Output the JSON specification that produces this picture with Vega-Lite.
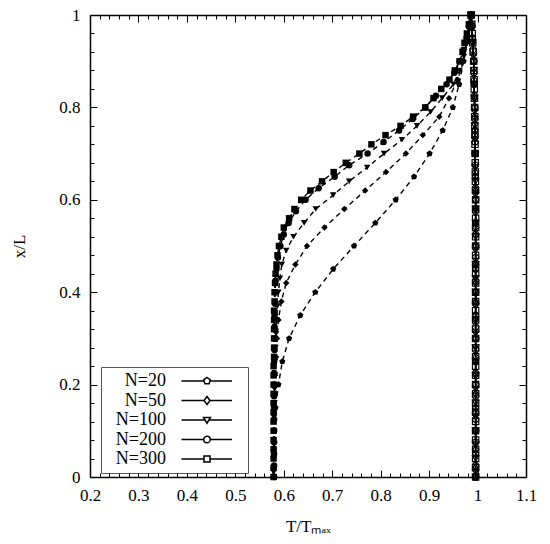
{
  "$schema": "https://vega.github.io/schema/vega-lite/v6.json",
  "description": "Temperature profiles x/L against T/Tmax for several N",
  "width": 436,
  "height": 462,
  "autosize": {"type": "none"},
  "padding": {"left": 90, "top": 15, "right": 24, "bottom": 67},
  "background": "white",
  "config": {
    "view": {"stroke": null},
    "axis": {
      "grid": false,
      "domainColor": "black",
      "domainWidth": 1.5,
      "tickColor": "black",
      "tickWidth": 1,
      "labelFont": "Liberation Serif",
      "labelFontSize": 17,
      "labelColor": "black",
      "labelFlush": false,
      "labelOverlap": false,
      "titleFont": "Liberation Serif",
      "titleFontSize": 17,
      "titleFontWeight": "normal",
      "titleColor": "black"
    }
  },
  "data": {
    "values": [
      {"n":"N=20","s":"L","x":0.579,"y":0},{"n":"N=20","s":"L","x":0.579,"y":0.05},{"n":"N=20","s":"L","x":0.580,"y":0.10},{"n":"N=20","s":"L","x":0.583,"y":0.15},{"n":"N=20","s":"L","x":0.589,"y":0.20},{"n":"N=20","s":"L","x":0.597,"y":0.25},{"n":"N=20","s":"L","x":0.611,"y":0.30},{"n":"N=20","s":"L","x":0.634,"y":0.35},{"n":"N=20","s":"L","x":0.665,"y":0.40},{"n":"N=20","s":"L","x":0.702,"y":0.45},{"n":"N=20","s":"L","x":0.745,"y":0.50},{"n":"N=20","s":"L","x":0.789,"y":0.55},{"n":"N=20","s":"L","x":0.831,"y":0.60},{"n":"N=20","s":"L","x":0.869,"y":0.65},{"n":"N=20","s":"L","x":0.901,"y":0.70},{"n":"N=20","s":"L","x":0.928,"y":0.75},{"n":"N=20","s":"L","x":0.949,"y":0.80},{"n":"N=20","s":"L","x":0.962,"y":0.85},{"n":"N=20","s":"L","x":0.971,"y":0.90},{"n":"N=20","s":"L","x":0.978,"y":0.95},{"n":"N=20","s":"L","x":0.986,"y":1.0},
      {"n":"N=50","s":"L","x":0.579,"y":0},{"n":"N=50","s":"L","x":0.579,"y":0.02},{"n":"N=50","s":"L","x":0.579,"y":0.06},{"n":"N=50","s":"L","x":0.580,"y":0.10},{"n":"N=50","s":"L","x":0.580,"y":0.14},{"n":"N=50","s":"L","x":0.581,"y":0.18},{"n":"N=50","s":"L","x":0.582,"y":0.22},{"n":"N=50","s":"L","x":0.584,"y":0.26},{"n":"N=50","s":"L","x":0.586,"y":0.30},{"n":"N=50","s":"L","x":0.589,"y":0.34},{"n":"N=50","s":"L","x":0.595,"y":0.38},{"n":"N=50","s":"L","x":0.605,"y":0.42},{"n":"N=50","s":"L","x":0.624,"y":0.46},{"n":"N=50","s":"L","x":0.648,"y":0.50},{"n":"N=50","s":"L","x":0.684,"y":0.54},{"n":"N=50","s":"L","x":0.725,"y":0.58},{"n":"N=50","s":"L","x":0.768,"y":0.62},{"n":"N=50","s":"L","x":0.811,"y":0.66},{"n":"N=50","s":"L","x":0.852,"y":0.70},{"n":"N=50","s":"L","x":0.887,"y":0.74},{"n":"N=50","s":"L","x":0.921,"y":0.78},{"n":"N=50","s":"L","x":0.941,"y":0.82},{"n":"N=50","s":"L","x":0.959,"y":0.86},{"n":"N=50","s":"L","x":0.971,"y":0.90},{"n":"N=50","s":"L","x":0.978,"y":0.94},{"n":"N=50","s":"L","x":0.984,"y":0.98},{"n":"N=50","s":"L","x":0.986,"y":1.0},
      {"n":"N=100","s":"L","x":0.579,"y":0},{"n":"N=100","s":"L","x":0.579,"y":0.01},{"n":"N=100","s":"L","x":0.579,"y":0.04},{"n":"N=100","s":"L","x":0.580,"y":0.07},{"n":"N=100","s":"L","x":0.580,"y":0.10},{"n":"N=100","s":"L","x":0.580,"y":0.13},{"n":"N=100","s":"L","x":0.581,"y":0.16},{"n":"N=100","s":"L","x":0.581,"y":0.19},{"n":"N=100","s":"L","x":0.582,"y":0.22},{"n":"N=100","s":"L","x":0.582,"y":0.25},{"n":"N=100","s":"L","x":0.583,"y":0.28},{"n":"N=100","s":"L","x":0.584,"y":0.31},{"n":"N=100","s":"L","x":0.585,"y":0.34},{"n":"N=100","s":"L","x":0.587,"y":0.37},{"n":"N=100","s":"L","x":0.589,"y":0.40},{"n":"N=100","s":"L","x":0.592,"y":0.43},{"n":"N=100","s":"L","x":0.596,"y":0.46},{"n":"N=100","s":"L","x":0.605,"y":0.49},{"n":"N=100","s":"L","x":0.620,"y":0.52},{"n":"N=100","s":"L","x":0.642,"y":0.55},{"n":"N=100","s":"L","x":0.666,"y":0.58},{"n":"N=100","s":"L","x":0.702,"y":0.61},{"n":"N=100","s":"L","x":0.735,"y":0.64},{"n":"N=100","s":"L","x":0.772,"y":0.67},{"n":"N=100","s":"L","x":0.807,"y":0.70},{"n":"N=100","s":"L","x":0.844,"y":0.73},{"n":"N=100","s":"L","x":0.875,"y":0.76},{"n":"N=100","s":"L","x":0.903,"y":0.79},{"n":"N=100","s":"L","x":0.927,"y":0.82},{"n":"N=100","s":"L","x":0.950,"y":0.85},{"n":"N=100","s":"L","x":0.963,"y":0.88},{"n":"N=100","s":"L","x":0.972,"y":0.91},{"n":"N=100","s":"L","x":0.978,"y":0.94},{"n":"N=100","s":"L","x":0.983,"y":0.97},{"n":"N=100","s":"L","x":0.986,"y":1.0},
      {"n":"N=200","s":"L","x":0.580,"y":0},{"n":"N=200","s":"L","x":0.580,"y":0.025},{"n":"N=200","s":"L","x":0.580,"y":0.05},{"n":"N=200","s":"L","x":0.580,"y":0.075},{"n":"N=200","s":"L","x":0.580,"y":0.10},{"n":"N=200","s":"L","x":0.580,"y":0.125},{"n":"N=200","s":"L","x":0.580,"y":0.15},{"n":"N=200","s":"L","x":0.580,"y":0.175},{"n":"N=200","s":"L","x":0.580,"y":0.20},{"n":"N=200","s":"L","x":0.580,"y":0.225},{"n":"N=200","s":"L","x":0.580,"y":0.25},{"n":"N=200","s":"L","x":0.581,"y":0.275},{"n":"N=200","s":"L","x":0.581,"y":0.30},{"n":"N=200","s":"L","x":0.581,"y":0.325},{"n":"N=200","s":"L","x":0.581,"y":0.35},{"n":"N=200","s":"L","x":0.582,"y":0.375},{"n":"N=200","s":"L","x":0.582,"y":0.40},{"n":"N=200","s":"L","x":0.583,"y":0.425},{"n":"N=200","s":"L","x":0.585,"y":0.45},{"n":"N=200","s":"L","x":0.588,"y":0.475},{"n":"N=200","s":"L","x":0.593,"y":0.50},{"n":"N=200","s":"L","x":0.600,"y":0.525},{"n":"N=200","s":"L","x":0.610,"y":0.55},{"n":"N=200","s":"L","x":0.625,"y":0.575},{"n":"N=200","s":"L","x":0.645,"y":0.60},{"n":"N=200","s":"L","x":0.672,"y":0.625},{"n":"N=200","s":"L","x":0.705,"y":0.65},{"n":"N=200","s":"L","x":0.735,"y":0.675},{"n":"N=200","s":"L","x":0.773,"y":0.70},{"n":"N=200","s":"L","x":0.806,"y":0.725},{"n":"N=200","s":"L","x":0.838,"y":0.75},{"n":"N=200","s":"L","x":0.866,"y":0.775},{"n":"N=200","s":"L","x":0.892,"y":0.80},{"n":"N=200","s":"L","x":0.914,"y":0.825},{"n":"N=200","s":"L","x":0.936,"y":0.85},{"n":"N=200","s":"L","x":0.952,"y":0.875},{"n":"N=200","s":"L","x":0.963,"y":0.90},{"n":"N=200","s":"L","x":0.971,"y":0.925},{"n":"N=200","s":"L","x":0.977,"y":0.95},{"n":"N=200","s":"L","x":0.982,"y":0.975},{"n":"N=200","s":"L","x":0.986,"y":1.0},
      {"n":"N=300","s":"L","x":0.579,"y":0},{"n":"N=300","s":"L","x":0.579,"y":0.02},{"n":"N=300","s":"L","x":0.579,"y":0.04},{"n":"N=300","s":"L","x":0.579,"y":0.06},{"n":"N=300","s":"L","x":0.579,"y":0.08},{"n":"N=300","s":"L","x":0.579,"y":0.10},{"n":"N=300","s":"L","x":0.579,"y":0.12},{"n":"N=300","s":"L","x":0.579,"y":0.14},{"n":"N=300","s":"L","x":0.579,"y":0.16},{"n":"N=300","s":"L","x":0.579,"y":0.18},{"n":"N=300","s":"L","x":0.579,"y":0.20},{"n":"N=300","s":"L","x":0.579,"y":0.22},{"n":"N=300","s":"L","x":0.579,"y":0.24},{"n":"N=300","s":"L","x":0.580,"y":0.26},{"n":"N=300","s":"L","x":0.580,"y":0.28},{"n":"N=300","s":"L","x":0.580,"y":0.30},{"n":"N=300","s":"L","x":0.580,"y":0.32},{"n":"N=300","s":"L","x":0.580,"y":0.34},{"n":"N=300","s":"L","x":0.580,"y":0.36},{"n":"N=300","s":"L","x":0.581,"y":0.38},{"n":"N=300","s":"L","x":0.581,"y":0.40},{"n":"N=300","s":"L","x":0.582,"y":0.42},{"n":"N=300","s":"L","x":0.583,"y":0.44},{"n":"N=300","s":"L","x":0.585,"y":0.46},{"n":"N=300","s":"L","x":0.587,"y":0.48},{"n":"N=300","s":"L","x":0.590,"y":0.50},{"n":"N=300","s":"L","x":0.595,"y":0.52},{"n":"N=300","s":"L","x":0.600,"y":0.54},{"n":"N=300","s":"L","x":0.611,"y":0.56},{"n":"N=300","s":"L","x":0.622,"y":0.58},{"n":"N=300","s":"L","x":0.636,"y":0.60},{"n":"N=300","s":"L","x":0.655,"y":0.62},{"n":"N=300","s":"L","x":0.679,"y":0.64},{"n":"N=300","s":"L","x":0.703,"y":0.66},{"n":"N=300","s":"L","x":0.728,"y":0.68},{"n":"N=300","s":"L","x":0.756,"y":0.70},{"n":"N=300","s":"L","x":0.781,"y":0.72},{"n":"N=300","s":"L","x":0.810,"y":0.74},{"n":"N=300","s":"L","x":0.841,"y":0.76},{"n":"N=300","s":"L","x":0.867,"y":0.78},{"n":"N=300","s":"L","x":0.892,"y":0.80},{"n":"N=300","s":"L","x":0.909,"y":0.82},{"n":"N=300","s":"L","x":0.925,"y":0.84},{"n":"N=300","s":"L","x":0.942,"y":0.86},{"n":"N=300","s":"L","x":0.953,"y":0.88},{"n":"N=300","s":"L","x":0.963,"y":0.90},{"n":"N=300","s":"L","x":0.969,"y":0.92},{"n":"N=300","s":"L","x":0.973,"y":0.94},{"n":"N=300","s":"L","x":0.978,"y":0.96},{"n":"N=300","s":"L","x":0.982,"y":0.98},{"n":"N=300","s":"L","x":0.986,"y":1.0},
      {"n":"N=20","s":"R","x":0.996,"y":0},{"n":"N=20","s":"R","x":0.996,"y":0.05},{"n":"N=20","s":"R","x":0.996,"y":0.10},{"n":"N=20","s":"R","x":0.996,"y":0.15},{"n":"N=20","s":"R","x":0.996,"y":0.20},{"n":"N=20","s":"R","x":0.996,"y":0.25},{"n":"N=20","s":"R","x":0.996,"y":0.30},{"n":"N=20","s":"R","x":0.996,"y":0.35},{"n":"N=20","s":"R","x":0.996,"y":0.40},{"n":"N=20","s":"R","x":0.996,"y":0.45},{"n":"N=20","s":"R","x":0.996,"y":0.50},{"n":"N=20","s":"R","x":0.996,"y":0.55},{"n":"N=20","s":"R","x":0.996,"y":0.60},{"n":"N=20","s":"R","x":0.9955,"y":0.65},{"n":"N=20","s":"R","x":0.995,"y":0.70},{"n":"N=20","s":"R","x":0.9945,"y":0.75},{"n":"N=20","s":"R","x":0.994,"y":0.80},{"n":"N=20","s":"R","x":0.993,"y":0.85},{"n":"N=20","s":"R","x":0.992,"y":0.90},{"n":"N=20","s":"R","x":0.9895,"y":0.95},{"n":"N=20","s":"R","x":0.987,"y":1.0},
      {"n":"N=50","s":"R","x":0.996,"y":0},{"n":"N=50","s":"R","x":0.996,"y":0.02},{"n":"N=50","s":"R","x":0.996,"y":0.06},{"n":"N=50","s":"R","x":0.996,"y":0.10},{"n":"N=50","s":"R","x":0.996,"y":0.14},{"n":"N=50","s":"R","x":0.996,"y":0.18},{"n":"N=50","s":"R","x":0.996,"y":0.22},{"n":"N=50","s":"R","x":0.996,"y":0.26},{"n":"N=50","s":"R","x":0.996,"y":0.30},{"n":"N=50","s":"R","x":0.996,"y":0.34},{"n":"N=50","s":"R","x":0.996,"y":0.38},{"n":"N=50","s":"R","x":0.996,"y":0.42},{"n":"N=50","s":"R","x":0.996,"y":0.46},{"n":"N=50","s":"R","x":0.996,"y":0.50},{"n":"N=50","s":"R","x":0.996,"y":0.54},{"n":"N=50","s":"R","x":0.996,"y":0.58},{"n":"N=50","s":"R","x":0.9958,"y":0.62},{"n":"N=50","s":"R","x":0.9954,"y":0.66},{"n":"N=50","s":"R","x":0.995,"y":0.70},{"n":"N=50","s":"R","x":0.9946,"y":0.74},{"n":"N=50","s":"R","x":0.9942,"y":0.78},{"n":"N=50","s":"R","x":0.9936,"y":0.82},{"n":"N=50","s":"R","x":0.9928,"y":0.86},{"n":"N=50","s":"R","x":0.992,"y":0.90},{"n":"N=50","s":"R","x":0.990,"y":0.94},{"n":"N=50","s":"R","x":0.988,"y":0.98},{"n":"N=50","s":"R","x":0.987,"y":1.0},
      {"n":"N=100","s":"R","x":0.996,"y":0},{"n":"N=100","s":"R","x":0.996,"y":0.01},{"n":"N=100","s":"R","x":0.996,"y":0.04},{"n":"N=100","s":"R","x":0.996,"y":0.07},{"n":"N=100","s":"R","x":0.996,"y":0.10},{"n":"N=100","s":"R","x":0.996,"y":0.13},{"n":"N=100","s":"R","x":0.996,"y":0.16},{"n":"N=100","s":"R","x":0.996,"y":0.19},{"n":"N=100","s":"R","x":0.996,"y":0.22},{"n":"N=100","s":"R","x":0.996,"y":0.25},{"n":"N=100","s":"R","x":0.996,"y":0.28},{"n":"N=100","s":"R","x":0.996,"y":0.31},{"n":"N=100","s":"R","x":0.996,"y":0.34},{"n":"N=100","s":"R","x":0.996,"y":0.37},{"n":"N=100","s":"R","x":0.996,"y":0.40},{"n":"N=100","s":"R","x":0.996,"y":0.43},{"n":"N=100","s":"R","x":0.996,"y":0.46},{"n":"N=100","s":"R","x":0.996,"y":0.49},{"n":"N=100","s":"R","x":0.996,"y":0.52},{"n":"N=100","s":"R","x":0.996,"y":0.55},{"n":"N=100","s":"R","x":0.996,"y":0.58},{"n":"N=100","s":"R","x":0.9959,"y":0.61},{"n":"N=100","s":"R","x":0.9956,"y":0.64},{"n":"N=100","s":"R","x":0.9953,"y":0.67},{"n":"N=100","s":"R","x":0.995,"y":0.70},{"n":"N=100","s":"R","x":0.9947,"y":0.73},{"n":"N=100","s":"R","x":0.9944,"y":0.76},{"n":"N=100","s":"R","x":0.9941,"y":0.79},{"n":"N=100","s":"R","x":0.9936,"y":0.82},{"n":"N=100","s":"R","x":0.993,"y":0.85},{"n":"N=100","s":"R","x":0.9924,"y":0.88},{"n":"N=100","s":"R","x":0.9915,"y":0.91},{"n":"N=100","s":"R","x":0.990,"y":0.94},{"n":"N=100","s":"R","x":0.9885,"y":0.97},{"n":"N=100","s":"R","x":0.987,"y":1.0},
      {"n":"N=200","s":"R","x":0.996,"y":0},{"n":"N=200","s":"R","x":0.996,"y":0.025},{"n":"N=200","s":"R","x":0.996,"y":0.05},{"n":"N=200","s":"R","x":0.996,"y":0.075},{"n":"N=200","s":"R","x":0.996,"y":0.10},{"n":"N=200","s":"R","x":0.996,"y":0.125},{"n":"N=200","s":"R","x":0.996,"y":0.15},{"n":"N=200","s":"R","x":0.996,"y":0.175},{"n":"N=200","s":"R","x":0.996,"y":0.20},{"n":"N=200","s":"R","x":0.996,"y":0.225},{"n":"N=200","s":"R","x":0.996,"y":0.25},{"n":"N=200","s":"R","x":0.996,"y":0.275},{"n":"N=200","s":"R","x":0.996,"y":0.30},{"n":"N=200","s":"R","x":0.996,"y":0.325},{"n":"N=200","s":"R","x":0.996,"y":0.35},{"n":"N=200","s":"R","x":0.996,"y":0.375},{"n":"N=200","s":"R","x":0.996,"y":0.40},{"n":"N=200","s":"R","x":0.996,"y":0.425},{"n":"N=200","s":"R","x":0.996,"y":0.45},{"n":"N=200","s":"R","x":0.996,"y":0.475},{"n":"N=200","s":"R","x":0.996,"y":0.50},{"n":"N=200","s":"R","x":0.996,"y":0.525},{"n":"N=200","s":"R","x":0.996,"y":0.55},{"n":"N=200","s":"R","x":0.996,"y":0.575},{"n":"N=200","s":"R","x":0.996,"y":0.60},{"n":"N=200","s":"R","x":0.9958,"y":0.625},{"n":"N=200","s":"R","x":0.9955,"y":0.65},{"n":"N=200","s":"R","x":0.9953,"y":0.675},{"n":"N=200","s":"R","x":0.995,"y":0.70},{"n":"N=200","s":"R","x":0.9948,"y":0.725},{"n":"N=200","s":"R","x":0.9945,"y":0.75},{"n":"N=200","s":"R","x":0.9943,"y":0.775},{"n":"N=200","s":"R","x":0.994,"y":0.80},{"n":"N=200","s":"R","x":0.9935,"y":0.825},{"n":"N=200","s":"R","x":0.993,"y":0.85},{"n":"N=200","s":"R","x":0.9925,"y":0.875},{"n":"N=200","s":"R","x":0.992,"y":0.90},{"n":"N=200","s":"R","x":0.9908,"y":0.925},{"n":"N=200","s":"R","x":0.9895,"y":0.95},{"n":"N=200","s":"R","x":0.9883,"y":0.975},{"n":"N=200","s":"R","x":0.987,"y":1.0},
      {"n":"N=300","s":"R","x":0.996,"y":0},{"n":"N=300","s":"R","x":0.996,"y":0.02},{"n":"N=300","s":"R","x":0.996,"y":0.04},{"n":"N=300","s":"R","x":0.996,"y":0.06},{"n":"N=300","s":"R","x":0.996,"y":0.08},{"n":"N=300","s":"R","x":0.996,"y":0.10},{"n":"N=300","s":"R","x":0.996,"y":0.12},{"n":"N=300","s":"R","x":0.996,"y":0.14},{"n":"N=300","s":"R","x":0.996,"y":0.16},{"n":"N=300","s":"R","x":0.996,"y":0.18},{"n":"N=300","s":"R","x":0.996,"y":0.20},{"n":"N=300","s":"R","x":0.996,"y":0.22},{"n":"N=300","s":"R","x":0.996,"y":0.24},{"n":"N=300","s":"R","x":0.996,"y":0.26},{"n":"N=300","s":"R","x":0.996,"y":0.28},{"n":"N=300","s":"R","x":0.996,"y":0.30},{"n":"N=300","s":"R","x":0.996,"y":0.32},{"n":"N=300","s":"R","x":0.996,"y":0.34},{"n":"N=300","s":"R","x":0.996,"y":0.36},{"n":"N=300","s":"R","x":0.996,"y":0.38},{"n":"N=300","s":"R","x":0.996,"y":0.40},{"n":"N=300","s":"R","x":0.996,"y":0.42},{"n":"N=300","s":"R","x":0.996,"y":0.44},{"n":"N=300","s":"R","x":0.996,"y":0.46},{"n":"N=300","s":"R","x":0.996,"y":0.48},{"n":"N=300","s":"R","x":0.996,"y":0.50},{"n":"N=300","s":"R","x":0.996,"y":0.52},{"n":"N=300","s":"R","x":0.996,"y":0.54},{"n":"N=300","s":"R","x":0.996,"y":0.56},{"n":"N=300","s":"R","x":0.996,"y":0.58},{"n":"N=300","s":"R","x":0.996,"y":0.60},{"n":"N=300","s":"R","x":0.9958,"y":0.62},{"n":"N=300","s":"R","x":0.9956,"y":0.64},{"n":"N=300","s":"R","x":0.9954,"y":0.66},{"n":"N=300","s":"R","x":0.9952,"y":0.68},{"n":"N=300","s":"R","x":0.995,"y":0.70},{"n":"N=300","s":"R","x":0.9948,"y":0.72},{"n":"N=300","s":"R","x":0.9946,"y":0.74},{"n":"N=300","s":"R","x":0.9944,"y":0.76},{"n":"N=300","s":"R","x":0.9942,"y":0.78},{"n":"N=300","s":"R","x":0.994,"y":0.80},{"n":"N=300","s":"R","x":0.9936,"y":0.82},{"n":"N=300","s":"R","x":0.9932,"y":0.84},{"n":"N=300","s":"R","x":0.9928,"y":0.86},{"n":"N=300","s":"R","x":0.9924,"y":0.88},{"n":"N=300","s":"R","x":0.992,"y":0.90},{"n":"N=300","s":"R","x":0.991,"y":0.92},{"n":"N=300","s":"R","x":0.990,"y":0.94},{"n":"N=300","s":"R","x":0.989,"y":0.96},{"n":"N=300","s":"R","x":0.988,"y":0.98},{"n":"N=300","s":"R","x":0.987,"y":1.0}
    ]
  },
  "resolve": {
    "axis": {"x": "independent", "y": "independent"},
    "scale": {"shape": "independent"},
    "legend": {"shape": "independent"}
  },
  "layer": [
    {
      "transform": [{"filter": "datum.s === 'L'"}],
      "mark": {"type": "line", "color": "black", "strokeWidth": 1.4, "strokeDash": [5, 4]},
      "encoding": {
        "x": {"field": "x", "type": "quantitative", "scale": {"domain": [0.2, 1.1], "nice": false, "zero": false},
          "axis": {"orient": "bottom",
            "values": [0.2, 0.22, 0.24, 0.26, 0.28, 0.3, 0.32, 0.34, 0.36, 0.38, 0.4, 0.42, 0.44, 0.46, 0.48, 0.5, 0.52, 0.54, 0.56, 0.58, 0.6, 0.62, 0.64, 0.66, 0.68, 0.7, 0.72, 0.74, 0.76, 0.78, 0.8, 0.82, 0.84, 0.86, 0.88, 0.9, 0.92, 0.94, 0.96, 0.98, 1, 1.02, 1.04, 1.06, 1.08, 1.1],
            "tickSize": {"condition": {"test": "abs(datum.value * 10 - round(datum.value * 10)) < 0.001", "value": -7}, "value": -4},
            "labelExpr": "abs(datum.value * 10 - round(datum.value * 10)) < 0.001 ? format(datum.value, '~g') : ''",
            "labelPadding": 17, "title": "T/Tₘₐₓ", "titlePadding": 12}},
        "y": {"field": "y", "type": "quantitative", "scale": {"domain": [0, 1], "nice": false},
          "axis": {"orient": "left",
            "values": [0, 0.04, 0.08, 0.12, 0.16, 0.2, 0.24, 0.28, 0.32, 0.36, 0.4, 0.44, 0.48, 0.52, 0.56, 0.6, 0.64, 0.68, 0.72, 0.76, 0.8, 0.84, 0.88, 0.92, 0.96, 1],
            "tickSize": {"condition": {"test": "abs(datum.value * 5 - round(datum.value * 5)) < 0.001", "value": -7}, "value": -4},
            "labelExpr": "abs(datum.value * 5 - round(datum.value * 5)) < 0.001 ? format(datum.value, '~g') : ''",
            "labelPadding": 17, "title": "x/L", "titlePadding": 30}},
        "detail": {"field": "n"},
        "order": {"field": "y", "type": "quantitative"}
      }
    },
    {
      "transform": [{"filter": "datum.s === 'R'"}],
      "mark": {"type": "line", "color": "black", "strokeWidth": 1.4},
      "encoding": {
        "x": {"field": "x", "type": "quantitative",
          "axis": {"orient": "top",
            "values": [0.2, 0.22, 0.24, 0.26, 0.28, 0.3, 0.32, 0.34, 0.36, 0.38, 0.4, 0.42, 0.44, 0.46, 0.48, 0.5, 0.52, 0.54, 0.56, 0.58, 0.6, 0.62, 0.64, 0.66, 0.68, 0.7, 0.72, 0.74, 0.76, 0.78, 0.8, 0.82, 0.84, 0.86, 0.88, 0.9, 0.92, 0.94, 0.96, 0.98, 1, 1.02, 1.04, 1.06, 1.08, 1.1],
            "tickSize": {"condition": {"test": "abs(datum.value * 10 - round(datum.value * 10)) < 0.001", "value": -7}, "value": -4},
            "labels": false, "title": null}},
        "y": {"field": "y", "type": "quantitative",
          "axis": {"orient": "right",
            "values": [0, 0.04, 0.08, 0.12, 0.16, 0.2, 0.24, 0.28, 0.32, 0.36, 0.4, 0.44, 0.48, 0.52, 0.56, 0.6, 0.64, 0.68, 0.72, 0.76, 0.8, 0.84, 0.88, 0.92, 0.96, 1],
            "tickSize": {"condition": {"test": "abs(datum.value * 5 - round(datum.value * 5)) < 0.001", "value": -7}, "value": -4},
            "labels": false, "title": null}},
        "detail": {"field": "n"},
        "order": {"field": "y", "type": "quantitative"}
      }
    },
    {
      "transform": [{"filter": "datum.s === 'L'"}],
      "mark": {"type": "point", "filled": true, "color": "black", "size": 42, "opacity": 1},
      "encoding": {
        "x": {"field": "x", "type": "quantitative", "axis": null},
        "y": {"field": "y", "type": "quantitative", "axis": null},
        "shape": {"field": "n", "type": "nominal", "legend": null,
          "scale": {"domain": ["N=20", "N=50", "N=100", "N=200", "N=300"],
            "range": ["M0,-1L0.951,-0.309L0.588,0.809L-0.588,0.809L-0.951,-0.309Z", "diamond", "triangle-down", "circle", "square"]}}
      }
    },
    {
      "transform": [{"filter": "datum.s === 'R'"}],
      "mark": {"type": "point", "filled": false, "color": "black", "strokeWidth": 1.2, "size": 40, "opacity": 1},
      "encoding": {
        "x": {"field": "x", "type": "quantitative", "axis": null},
        "y": {"field": "y", "type": "quantitative", "axis": null},
        "shape": {"field": "n", "type": "nominal", "legend": null,
          "scale": {"domain": ["N=20", "N=50", "N=100", "N=200", "N=300"],
            "range": ["M0,-1L0.951,-0.309L0.588,0.809L-0.588,0.809L-0.951,-0.309Z", "diamond", "triangle-down", "circle", "square"]}}
      }
    },
    {
      "transform": [{"filter": "false"}],
      "mark": {"type": "point", "filled": false, "color": "black", "strokeWidth": 1.5, "opacity": 1},
      "encoding": {
        "shape": {"field": "n", "type": "nominal",
          "scale": {"domain": ["N=20", "N=50", "N=100", "N=200", "N=300"],
            "range": [
              "M-1,0M13.3,0H17.73M19.07,0H23.4M18.4,-0.7L19.07,-0.22L18.81,0.57L17.99,0.57L17.73,-0.22ZM25,0",
              "M-1,0M13.3,0H17.8M19,0H23.4M18.4,-0.8L19,0L18.4,0.8L17.8,0ZM25,0",
              "M-1,0M13.3,0H18M18.8,0H23.4M17.7,-0.5L19.1,-0.5L18.4,0.65ZM25,0",
              "M-1,0M13.3,0H17.75M19.05,0H23.4M19.05,0A0.65,0.65 0 1,1 17.75,0A0.65,0.65 0 1,1 19.05,0ZM25,0",
              "M-1,0M13.3,0H17.8M19,0H23.4M17.8,-0.6H19V0.6H17.8ZM25,0"
            ]},
          "legend": {
            "title": null,
            "orient": "none",
            "legendX": 11,
            "legendY": 352,
            "padding": 5,
            "strokeColor": "#555555",
            "fillColor": "white",
            "symbolSize": 100,
            "symbolStrokeWidth": 1.5,
            "symbolStrokeColor": "black",
            "labelFont": "Liberation Serif",
            "labelFontSize": 18,
            "labelColor": "black",
            "labelAlign": "right",
            "labelOffset": 42,
            "rowPadding": 1.5
          }
        }
      }
    }
  ]
}
